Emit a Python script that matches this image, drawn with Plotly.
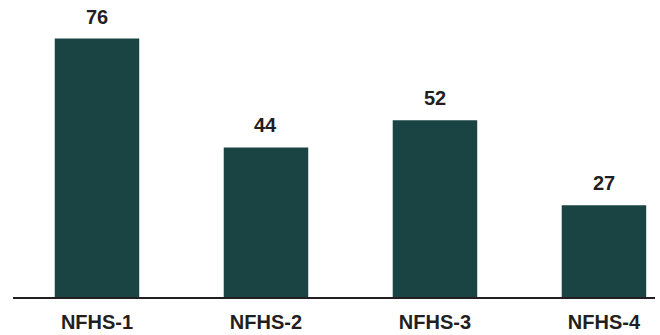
import plotly.graph_objects as go

# Survey rounds and their values
rounds = ["NFHS-1", "NFHS-2", "NFHS-3", "NFHS-4"]
values = [76, 44, 52, 27]

bar_color = "#1a4444"
text_color = "#231f20"
font_family = "Liberation Sans, Arial, sans-serif"

fig = go.Figure(
    go.Bar(
        x=rounds,
        y=values,
        width=0.5,
        marker=dict(color=bar_color, line=dict(width=0)),
        hoverinfo="skip",
    )
)

# Value labels above each bar
for r, v in zip(rounds, values):
    fig.add_annotation(
        x=r, y=v, text=f"<b>{v}</b>", showarrow=False,
        yanchor="bottom", yshift=9,
        font=dict(family=font_family, size=20, color=text_color),
    )

fig.update_layout(
    width=660, height=335,
    margin=dict(l=13, r=5, t=10, b=38),
    paper_bgcolor="white", plot_bgcolor="white",
    showlegend=False,
    xaxis=dict(
        range=[-0.497, 3.302], automargin=False,
        showline=True, linecolor=text_color, linewidth=2,
        showgrid=False, zeroline=False,
        ticks="outside", ticklen=6, tickcolor="rgba(0,0,0,0)",
        tickfont=dict(family=font_family, size=20, color=text_color),
        tickvals=rounds, ticktext=[f"<b>{r}</b>" for r in rounds],
    ),
    yaxis=dict(
        range=[0, 84.4], visible=False, showgrid=False, zeroline=False,
        automargin=False,
    ),
)

fig.write_html("out.html")
